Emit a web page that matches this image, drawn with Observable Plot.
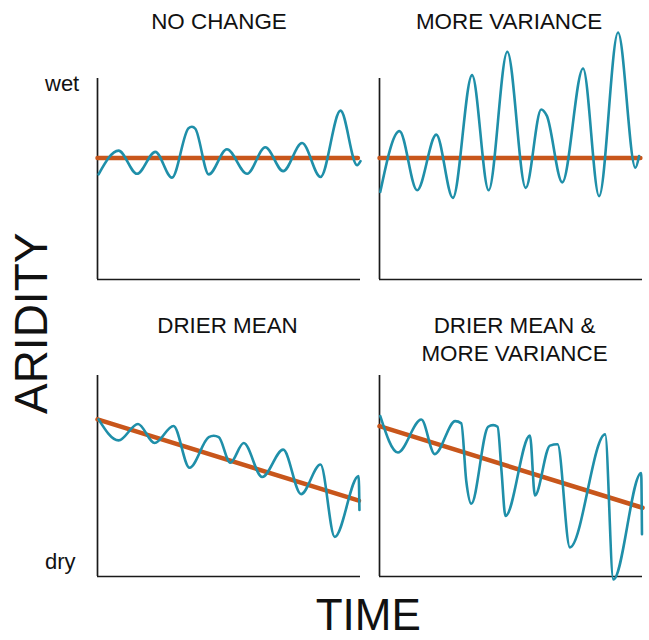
<!DOCTYPE html>
<html>
<head>
<meta charset="utf-8">
<script src="https://cdn.jsdelivr.net/npm/d3@7"></script>
<script src="https://cdn.jsdelivr.net/npm/@observablehq/plot@0.6"></script>
<style>
  body { margin: 0; background: #fff; }
  #chart { width: 649px; height: 640px; }
</style>
</head>
<body>
<div id="chart"></div>
<script>
// ---- data (panel x: 0..100 = time, y: 0 = dry axis, 100 = wet) ----
const panelTitles = ["NO CHANGE", "MORE VARIANCE", "DRIER MEAN", "DRIER MEAN &\nMORE VARIANCE"];
const panelCols = [0, 1, 0, 1];
const panelRows = [0, 0, 1, 1];

const noChangeX = [0.4, 8, 15, 22, 28.3, 34.6, 35.9, 37.2, 42.3, 49.2, 56.9, 63.8, 70.6, 77.8, 84.8, 92.4, 98.7, 100];
const noChangeY = [52.3, 64.1, 52.6, 63.5, 50.7, 75.3, 76, 75, 52.3, 64.8, 52.6, 65.8, 53.9, 67.9, 51, 84, 56.9, 58.9];

const moreVarX = [0.3, 7.6, 14.3, 21.6, 27.9, 35.2, 41.5, 48.6, 55.6, 61.5, 63.6, 69.5, 77.4, 83.5, 90.7, 97.3, 98.7];
const moreVarY = [43.6, 73.8, 44.4, 72.1, 40.6, 101.7, 44.4, 113.3, 45.6, 84.6, 81.5, 48.3, 105, 41.5, 122.9, 55.6, 61.4];

const drierX = [0.4, 8, 15.4, 21.7, 28.9, 35, 42.3, 44.2, 46.1, 50.5, 55.6, 62.6, 70.6, 77.4, 84.8, 90.2, 99.3, 99.6];
const drierY = [78.2, 67.7, 75.9, 66.4, 74.9, 54.1, 69.3, 70, 69.3, 56.6, 66.4, 49.5, 63.1, 41, 55.7, 19.7, 50, 33.1];

const drierVarX = [0.3, 7, 15.9, 21, 28.8, 31.1, 33, 34.9, 41.3, 43.2, 44.9, 46.4, 47.9, 57.2, 59.1, 64.8, 67.7, 72.4, 85.8, 88.9, 99.5, 99.8];
const drierVarY = [79.8, 61.7, 78.1, 60.9, 77.3, 76.2, 47.4, 36.2, 74.5, 75.3, 74.5, 52.3, 30.1, 70.1, 40.3, 65.1, 65.8, 14.5, 70.7, -1.5, 51.5, 21];

const meanStartY = [60.5, 60.5, 78.2, 74.8];
const meanEndX = [99, 99.2, 99.4, 100];
const meanEndY = [60.5, 60.5, 37.7, 34.2];

const sideLabels = ["wet", "dry"];
const xTitle = "TIME";
const yTitle = "ARIDITY";

// ---- build tables ----
const waveX = [noChangeX, moreVarX, drierX, drierVarX];
const waveY = [noChangeY, moreVarY, drierY, drierVarY];
const wave = waveX.flatMap((xs, p) => xs.map((x, i) => ({panel: p, col: panelCols[p], row: panelRows[p], x, y: waveY[p][i]})));
const mean = panelTitles.flatMap((t, p) => [
  {panel: p, col: panelCols[p], row: panelRows[p], x: 0, y: meanStartY[p]},
  {panel: p, col: panelCols[p], row: panelRows[p], x: meanEndX[p], y: meanEndY[p]}
]);
const titleRows = panelTitles.map((t, p) => ({t, col: panelCols[p], row: panelRows[p]}));

const TEAL = "#1f8fa9";
const ORANGE = "#c8561b";
const INK = "#111";
const FONT = "'Liberation Sans', Arial, Helvetica, sans-serif";

const titleOpts = {text: "t", fx: "col", fy: "row", frameAnchor: "top", lineAnchor: "bottom", fontSize: 22.4, fill: INK, lineHeight: 1.24};

const chart = Plot.plot({
  width: 649,
  height: 640,
  marginLeft: 97,
  marginRight: 7,
  marginTop: 77,
  marginBottom: 63,
  style: {fontFamily: FONT, background: "#fff"},
  x: {domain: [0, 100], axis: null},
  y: {domain: [0, 100], axis: null},
  fx: {domain: [0, 1], axis: null, paddingInner: 0.0674, paddingOuter: 0},
  fy: {domain: [0, 1], axis: null, paddingInner: 0.322, paddingOuter: 0},
  marks: [
    Plot.ruleX([0], {y1: 0, y2: 100, stroke: "#1a1a1a", strokeWidth: 1.7}),
    Plot.ruleY([0], {x1: 0, x2: 100, stroke: "#1a1a1a", strokeWidth: 1.7}),
    Plot.line(mean, {x: "x", y: "y", z: "panel", fx: "col", fy: "row", stroke: ORANGE, strokeWidth: 4.5}),
    Plot.line(wave, {x: "x", y: "y", z: "panel", fx: "col", fy: "row", curve: "monotone-x", stroke: TEAL, strokeWidth: 2.6}),
    Plot.text(titleRows.filter(d => d.col === 0 && d.row === 0), {...titleOpts, dx: -10, dy: -49.7}),
    Plot.text(titleRows.filter(d => d.col === 1 && d.row === 0), {...titleOpts, dx: -2, dy: -49.7}),
    Plot.text(titleRows.filter(d => d.col === 0 && d.row === 1), {...titleOpts, dx: -1.5, dy: -42.7}),
    Plot.text(titleRows.filter(d => d.col === 1 && d.row === 1), {...titleOpts, dx: 3.5, dy: -15})
  ]
});

const svg = d3.select(chart);
svg.append("text").attr("x", 45).attr("y", 90.7).attr("text-anchor", "start").attr("font-size", 22).attr("font-family", FONT).attr("fill", INK).text(sideLabels[0]);
svg.append("text").attr("x", 45).attr("y", 569.3).attr("text-anchor", "start").attr("font-size", 22).attr("font-family", FONT).attr("fill", INK).text(sideLabels[1]);
svg.append("text").attr("x", 368.3).attr("y", 629.5).attr("text-anchor", "middle").attr("font-size", 44).attr("font-family", FONT).attr("fill", INK).text(xTitle);
svg.append("text").attr("transform", "translate(46.7,323.3) rotate(-90)").attr("text-anchor", "middle").attr("font-size", 46).attr("font-family", FONT).attr("fill", INK).text(yTitle);

document.getElementById("chart").appendChild(chart);
</script>
</body>
</html>
